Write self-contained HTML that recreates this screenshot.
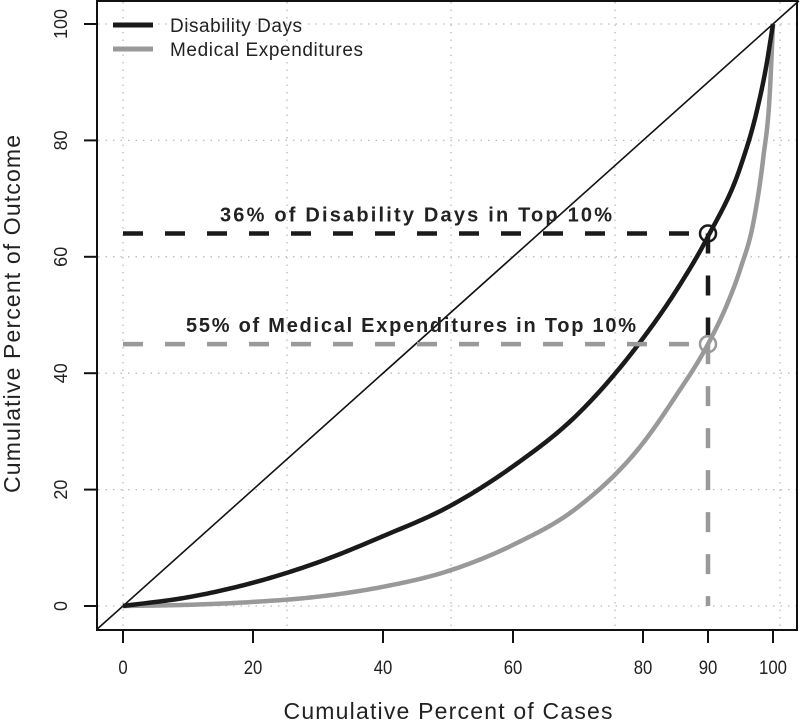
<!DOCTYPE html>
<html><head><meta charset="utf-8"><style>
html,body{margin:0;padding:0;background:#fff;}
svg{display:block;font-family:"Liberation Sans",Arial,sans-serif;}
</style></head><body>
<svg id="chart" width="800" height="723" viewBox="0 0 800 723">
<g id="grid"></g>
<g id="axes"></g>
<g id="marks"></g>
<rect x="97" y="1" width="700" height="629" fill="none" stroke="#111" stroke-width="2"/>
<g>
  <line x1="113" y1="25" x2="153" y2="25" stroke="#1a1a1a" stroke-width="5"/>
  <text x="170" y="32" font-size="19" textLength="132" fill="#222">Disability Days</text>
  <line x1="113" y1="49" x2="153" y2="49" stroke="#999" stroke-width="5"/>
  <text x="170" y="56" font-size="19" textLength="193" fill="#222">Medical Expenditures</text>
</g>
<text x="448" y="719" font-size="23" textLength="329" fill="#222" text-anchor="middle">Cumulative Percent of Cases</text>
<text transform="translate(20,314) rotate(-90)" font-size="23" textLength="358" fill="#222" text-anchor="middle">Cumulative Percent of Outcome</text>
</svg>
<script>
const disX = [0,10,20,30,40,50,60,70,80,85,90,95,97.5,99,100];
const disability = [0,1.5,4,7.5,12,17,24,33,46,54,63.5,75.5,85,93,100];
const medX = [0,10,20,30,40,50,60,70,80,85,90,93,95,97,98.5,99.5,100];
const medical = [0,0.2,0.7,1.6,3.3,6,10.5,17,28,36,45,52,58,66,77,88,100];
const xTicks = [0,20,40,60,80,90,100];
const yTicks = [0,20,40,60,80,100];
const markX = 90;
const disabilityAt = 64;
const medicalAt = 45;
const labelDis = "36% of Disability Days in Top 10%";
const labelMed = "55% of Medical Expenditures in Top 10%";

const NS="http://www.w3.org/2000/svg";
const X=v=>123+v*6.5;
const Y=v=>606-v*5.82;
function mk(tag,parent,attrs){const e=document.createElementNS(NS,tag);for(const k in attrs)e.setAttribute(k,attrs[k]);parent.appendChild(e);return e;}
const grid=document.getElementById('grid'),axes=document.getElementById('axes'),marks=document.getElementById('marks');

[123,287,451,615,780].forEach(px=>{
  const l=mk('line',grid,{x1:px,y1:2,x2:px,y2:629,stroke:'#bbb','stroke-width':1.3,'stroke-dasharray':'1.5 6'});
  
  
});
yTicks.forEach(v=>{
  const l=mk('line',grid,{x1:98,y1:Y(v),x2:796,y2:Y(v),stroke:'#bbb','stroke-width':1.3,'stroke-dasharray':'1.5 6'});
  
  
});
xTicks.forEach(v=>{
  const t=mk('line',axes,{x1:X(v),y1:630,x2:X(v),y2:643,stroke:'#111','stroke-width':2});
  
  
  const tx=mk('text',axes,{x:X(v),y:674,'font-size':19,'text-anchor':'middle',fill:'#222',transform:`translate(${X(v)*0.12},0) scale(0.88,1)`});
  tx.textContent=v;
  
  
});
yTicks.forEach(v=>{
  const t=mk('line',axes,{x1:84,y1:Y(v),x2:97,y2:Y(v),stroke:'#111','stroke-width':2});
  
  
  const tx=mk('text',axes,{transform:`translate(67,${Y(v)}) rotate(-90)`,'font-size':18,'text-anchor':'middle',fill:'#222'});
  tx.textContent=v;
  
  
});

const eq=mk('line',marks,{x1:X(-4),y1:Y(-4),x2:X(104),y2:Y(104),stroke:'#111','stroke-width':1.6});



function smooth(xa,ya){
  const n=xa.length,d=[],h=[],m=new Array(n);
  for(let i=0;i<n-1;i++){h.push(xa[i+1]-xa[i]);d.push((ya[i+1]-ya[i])/h[i]);}
  m[0]=d[0];m[n-1]=d[n-2];
  for(let i=1;i<n-1;i++)m[i]=(h[i]*d[i-1]+h[i-1]*d[i])/(h[i-1]+h[i]);
  let p='';
  for(let i=0;i<n-1;i++){
    const hh=h[i];
    for(let s=0;s<=20;s++){
      const t=s/20,t2=t*t,t3=t2*t;
      const y=(2*t3-3*t2+1)*ya[i]+(t3-2*t2+t)*hh*m[i]+(-2*t3+3*t2)*ya[i+1]+(t3-t2)*hh*m[i+1];
      const x=xa[i]+t*hh;
      p+=(p?'L':'M')+X(x).toFixed(2)+','+Y(y).toFixed(2);
    }
  }
  return p;
}
const med=mk('path',marks,{d:smooth(medX,medical),fill:'none',stroke:'#999','stroke-width':4.5});


const dis=mk('path',marks,{d:smooth(disX,disability),fill:'none',stroke:'#1a1a1a','stroke-width':4.5});



const h1=mk('line',marks,{x1:X(0),y1:Y(disabilityAt),x2:X(markX),y2:Y(disabilityAt),stroke:'#1a1a1a','stroke-width':4.5,'stroke-dasharray':'20 22'});


const h2=mk('line',marks,{x1:X(0),y1:Y(medicalAt),x2:X(markX),y2:Y(medicalAt),stroke:'#999','stroke-width':4.5,'stroke-dasharray':'20 22'});


const v1=mk('line',marks,{x1:X(markX),y1:Y(disabilityAt),x2:X(markX),y2:Y(medicalAt),stroke:'#1a1a1a','stroke-width':4.5,'stroke-dasharray':'20 22'});


const v2=mk('line',marks,{x1:X(markX),y1:Y(medicalAt),x2:X(markX),y2:Y(0),stroke:'#999','stroke-width':4.5,'stroke-dasharray':'20 22'});


const c1=mk('circle',marks,{cx:X(markX),cy:Y(disabilityAt),r:8,fill:'none',stroke:'#1a1a1a','stroke-width':2.5});


const c2=mk('circle',marks,{cx:X(markX),cy:Y(medicalAt),r:8,fill:'none',stroke:'#999','stroke-width':2.5});


const t1=mk('text',marks,{x:416,y:Y(disabilityAt)-12,'font-size':20,'font-weight':'bold','text-anchor':'middle',textLength:392,fill:'#222'});
t1.textContent=labelDis;


const t2=mk('text',marks,{x:411,y:Y(medicalAt)-12,'font-size':20,'font-weight':'bold','text-anchor':'middle',textLength:450,fill:'#222'});
t2.textContent=labelMed;


</script>
</body></html>
